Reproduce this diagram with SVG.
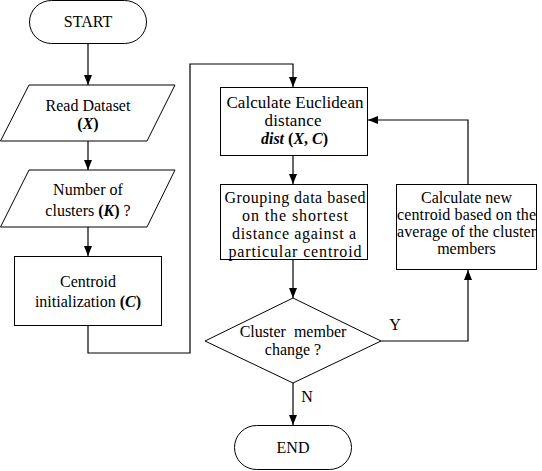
<svg xmlns="http://www.w3.org/2000/svg" width="542" height="471" viewBox="0 0 542 471">
<style>
.s{fill:#fff;stroke:#000;stroke-width:1}
.t{font-family:"Liberation Serif","Times New Roman",serif;font-size:16px;fill:#000;text-anchor:middle}
.m{font-size:17px}
.c{fill:none;stroke:#000;stroke-width:1.2}
.b{font-weight:bold}
.bi{font-weight:bold;font-style:italic}
</style>
<defs>
<marker id="ah" viewBox="0 0 10 8" refX="10" refY="4" markerWidth="10" markerHeight="8" markerUnits="userSpaceOnUse" orient="auto">
<path d="M0,0 L10,4 L0,8 Z" fill="#000"/>
</marker>
</defs>
<rect width="542" height="471" fill="#fff"/>
<g id="connectors">
<path class="c" d="M88,44 V85" marker-end="url(#ah)"/>
<path class="c" d="M88,141 V170" marker-end="url(#ah)"/>
<path class="c" d="M88,227 V256" marker-end="url(#ah)"/>
<path class="c" d="M88,326 V353 H190 V64 H293 V87" marker-end="url(#ah)"/>
<path class="c" d="M293,156 V184" marker-end="url(#ah)"/>
<path class="c" d="M293,260 V298" marker-end="url(#ah)"/>
<path class="c" d="M381,341 H468 V270" marker-end="url(#ah)"/>
<path class="c" d="M468,184 V120 H368" marker-end="url(#ah)"/>
<path class="c" d="M293,383 V425" marker-end="url(#ah)"/>
<text class="t" x="395" y="330">Y</text>
<text class="t" x="307" y="402">N</text>
</g>
<g id="start">
<rect class="s" x="29.5" y="0.5" width="117" height="43" rx="22" ry="21.5"/>
<text class="t" x="88" y="27">START</text>
</g>
<g id="read-dataset">
<polygon class="s" points="29,85 175,85 147,141 0.5,141"/>
<text class="t" x="88" y="111">Read Dataset</text>
<text class="t" x="88" y="129"><tspan class="b">(</tspan><tspan class="bi">X</tspan><tspan class="b">)</tspan></text>
</g>
<g id="num-clusters">
<polygon class="s" points="29,170 175,170 147,227 0.5,227"/>
<text class="t" x="88" y="195">Number of</text>
<text class="t" x="88" y="216">clusters <tspan class="b">(</tspan><tspan class="bi">K</tspan><tspan class="b">)</tspan> ?</text>
</g>
<g id="centroid-init">
<rect class="s" x="14.5" y="256.5" width="147" height="69"/>
<text class="t" x="88" y="287">Centroid</text>
<text class="t" x="88" y="307">initialization <tspan class="b">(</tspan><tspan class="bi">C</tspan><tspan class="b">)</tspan></text>
</g>
<g id="calc-dist">
<rect class="s" x="220.5" y="87.5" width="147" height="68"/>
<text class="t m" x="295" y="108" textLength="137">Calculate Euclidean</text>
<text class="t m" x="293" y="126" textLength="57">distance</text>
<text class="t" x="294.5" y="144"><tspan class="bi">dist</tspan> <tspan class="b">(</tspan><tspan class="bi">X</tspan><tspan class="b">, </tspan><tspan class="bi">C</tspan><tspan class="b">)</tspan></text>
</g>
<g id="grouping">
<rect class="s" x="220.5" y="184.5" width="147" height="75"/>
<text class="t" x="295" y="203" textLength="141">Grouping data based</text>
<text class="t" x="295" y="221" textLength="106">on the shortest</text>
<text class="t" x="294" y="239" textLength="124">distance against a</text>
<text class="t" x="295" y="257" textLength="133">particular centroid</text>
</g>
<g id="new-centroid">
<rect class="s" x="396.5" y="184.5" width="140" height="85"/>
<text class="t" x="466.5" y="203">Calculate new</text>
<text class="t" x="466.5" y="220" textLength="139">centroid based on the</text>
<text class="t" x="466.5" y="237" textLength="139">average of the cluster</text>
<text class="t" x="466.5" y="254">members</text>
</g>
<g id="decision">
<polygon class="s" points="293,298 381,341 293,383 205,341"/>
<text class="t" x="293" y="337" xml:space="preserve">Cluster  member</text>
<text class="t" x="293" y="355">change ?</text>
</g>
<g id="end">
<rect class="s" x="234.5" y="425.5" width="117" height="44" rx="22" ry="22"/>
<text class="t" x="293" y="453">END</text>
</g>
</svg>
